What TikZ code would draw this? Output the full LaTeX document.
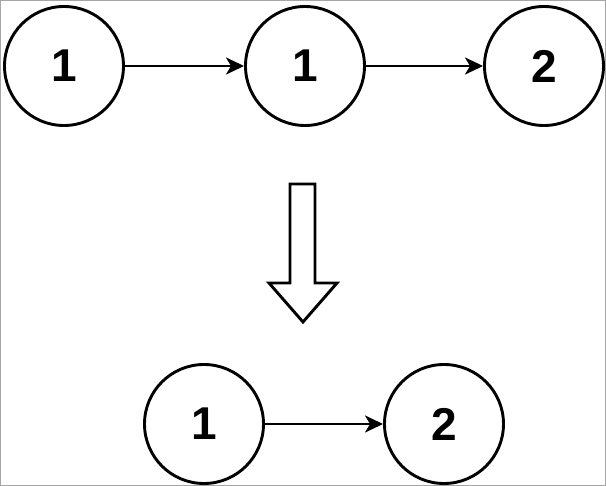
\documentclass[tikz,border=0pt]{standalone}
\usepackage{fontspec}
\setmainfont{Liberation Sans}
\usetikzlibrary{arrows.meta}
\begin{document}
\begin{tikzpicture}[x=1pt,y=-1pt,
  nd/.style={circle,draw=black,line width=2.9pt,minimum size=119pt,inner sep=0pt,font=\fontsize{46}{50}\selectfont\bfseries},
  conn/.style={line width=2.6pt,-{Stealth[length=18pt,width=17pt,inset=5pt]}}]
\useasboundingbox (0,0) rectangle (606,486);
\draw[gray!70,line width=1pt] (0.5,0.5) rectangle (605.5,485.5);
\node[nd] (a) at (64,66) {1};
\node[nd] (b) at (305,66) {1};
\node[nd] (c) at (544,66) {2};
\node[nd] (d) at (204,424) {1};
\node[nd] (e) at (444,424) {2};
\draw[conn] (a) -- (b);
\draw[conn] (b) -- (c);
\draw[conn] (d) -- (e);
\draw[line width=2.9pt,line join=miter] (290,184) -- (315,184) -- (315,283) -- (337,283) -- (303,322) -- (269,283) -- (290,283) -- cycle;
\end{tikzpicture}
\end{document}
